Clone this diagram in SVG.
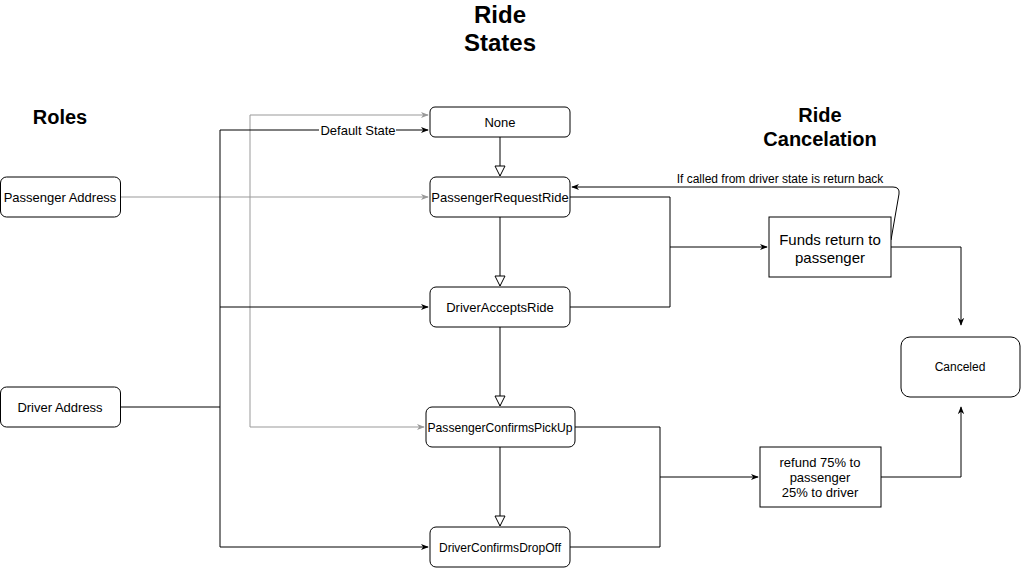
<svg xmlns="http://www.w3.org/2000/svg" width="1021" height="569" viewBox="0 0 1021 569">
<style>
text{font-family:"Liberation Sans",Arial,sans-serif;fill:#000;text-anchor:middle;dominant-baseline:central}
.lbl{font-size:13px}
.sm{font-size:12px}
.big{font-size:15px}
.title{font-size:24px;font-weight:bold}
.head{font-size:20px;font-weight:bold}
.node{fill:#fff;stroke:#000;stroke-width:1}
.e{fill:none;stroke:#000;stroke-width:1}
.g{fill:none;stroke:#999;stroke-width:1}
</style>
<defs>
<marker id="a" viewBox="0 0 10 10" refX="9" refY="5" markerWidth="8" markerHeight="8" markerUnits="userSpaceOnUse" orient="auto"><path d="M0,1 L10,5 L0,9 L3,5 Z" fill="#000"/></marker>
<marker id="ag" viewBox="0 0 10 10" refX="9" refY="5" markerWidth="8" markerHeight="8" markerUnits="userSpaceOnUse" orient="auto"><path d="M0,1 L10,5 L0,9 L3,5 Z" fill="#999"/></marker>
<marker id="h" viewBox="0 0 12 12" refX="11" refY="6" markerWidth="12" markerHeight="12" markerUnits="userSpaceOnUse" orient="auto"><path d="M1,1 L11,6 L1,11 Z" fill="#fff" stroke="#000" stroke-width="1"/></marker>
</defs>
<g id="titles">
<text class="title" x="500" y="14">Ride</text>
<text class="title" x="500" y="42">States</text>
<text class="head" x="60" y="117">Roles</text>
<text class="head" x="820" y="115">Ride</text>
<text class="head" x="820" y="139">Cancelation</text>
</g>
<g id="connectors">
<path class="g" d="M120,197 H428" marker-end="url(#ag)"/>
<path class="g" d="M250,197 V115 H428" marker-end="url(#ag)"/>
<path class="g" d="M250,197 V427 H424" marker-end="url(#ag)"/>
<path class="e" d="M120,407 H220 V130 H428" marker-end="url(#a)"/>
<path class="e" d="M220,307 H428" marker-end="url(#a)"/>
<path class="e" d="M220,407 V547 H428" marker-end="url(#a)"/>
<rect x="319" y="123" width="77" height="14" fill="#fff"/>
<text class="lbl" x="358" y="130">Default State</text>
<path class="e" d="M500,137 V176" marker-end="url(#h)"/>
<path class="e" d="M500,217 V286" marker-end="url(#h)"/>
<path class="e" d="M500,327 V406" marker-end="url(#h)"/>
<path class="e" d="M500,447 V526" marker-end="url(#h)"/>
<path class="e" d="M570,197 H670 V247 H767" marker-end="url(#a)"/>
<path class="e" d="M570,307 H670 V247"/>
<path class="e" d="M891,240 L899,194 Q900,187 893,187 H572" marker-end="url(#a)"/>
<text class="sm" x="780" y="179">If called from driver state is return back</text>
<path class="e" d="M891,247 H961 V325" marker-end="url(#a)"/>
<path class="e" d="M575,427 H660 V547 H570"/>
<path class="e" d="M660,477 H758" marker-end="url(#a)"/>
<path class="e" d="M881,477 H961 V407" marker-end="url(#a)"/>
</g>
<g id="n-none"><rect class="node" x="430" y="107" width="140" height="30" rx="5"/><text class="lbl" x="500" y="122">None</text></g>
<g id="n-prr"><rect class="node" x="430" y="177" width="140" height="40" rx="6"/><text class="lbl" x="500" y="197">PassengerRequestRide</text></g>
<g id="n-dar"><rect class="node" x="430" y="287" width="140" height="40" rx="6"/><text class="lbl" x="500" y="307">DriverAcceptsRide</text></g>
<g id="n-pcp"><rect class="node" x="426" y="407" width="149" height="40" rx="6"/><text class="lbl" x="500" y="427" textLength="145" lengthAdjust="spacingAndGlyphs">PassengerConfirmsPickUp</text></g>
<g id="n-dcd"><rect class="node" x="430" y="527" width="140" height="40" rx="6"/><text class="lbl" x="500" y="547" textLength="122" lengthAdjust="spacingAndGlyphs">DriverConfirmsDropOff</text></g>
<g id="n-pa"><rect class="node" x="0.5" y="177" width="120" height="40" rx="6"/><text class="lbl" x="60" y="197">Passenger Address</text></g>
<g id="n-da"><rect class="node" x="0.5" y="387" width="120" height="40" rx="6"/><text class="lbl" x="60" y="407">Driver Address</text></g>
<g id="n-funds"><rect class="node" x="769" y="217" width="122" height="60"/><text class="big" x="830" y="239">Funds return to</text><text class="big" x="830" y="257">passenger</text></g>
<g id="n-canceled"><rect class="node" x="901" y="337" width="119" height="60" rx="9"/><text class="sm" x="960" y="367">Canceled</text></g>
<g id="n-refund"><rect class="node" x="760" y="447" width="121" height="60"/><text class="lbl" x="820" y="462">refund 75% to</text><text class="lbl" x="820" y="477">passenger</text><text class="lbl" x="820" y="492"> 25% to driver</text></g>
</svg>
